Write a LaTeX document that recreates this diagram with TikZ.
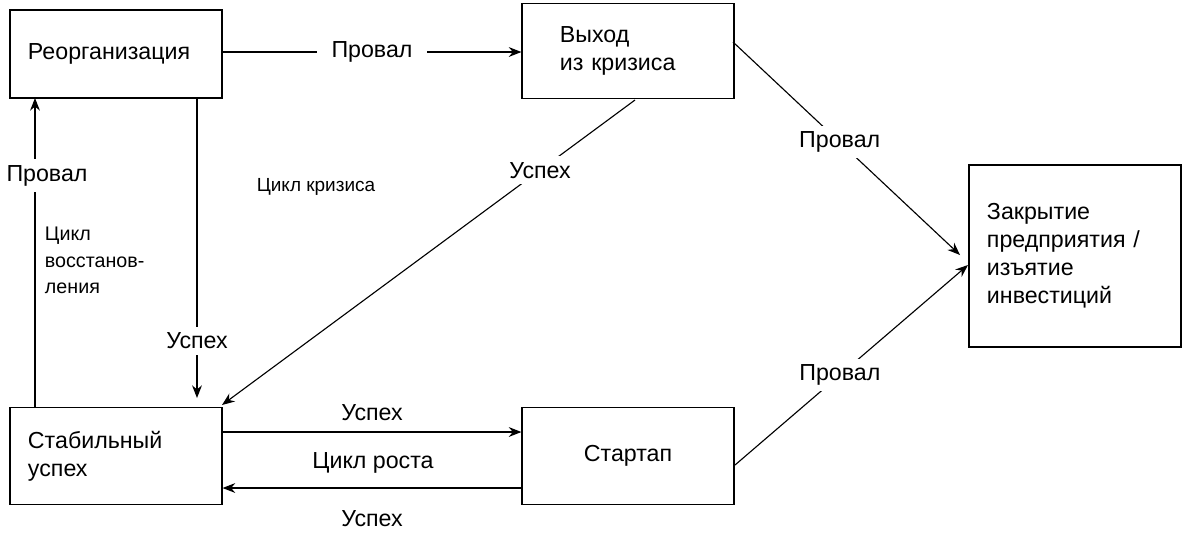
\documentclass[tikz,border=0pt]{standalone}
\usepackage{fontspec}
\setmainfont{Liberation Sans}
\usetikzlibrary{arrows.meta}
\usetikzlibrary{positioning}

\begin{document}
\begin{tikzpicture}[x=0.025cm,y=-0.025cm,
  every node/.style={font=\fontsize{16.5}{20}\selectfont},
  stage/.style={draw,thick,minimum width=5.3cm,text width=4.4cm},
  edge/.style={thick,-{Stealth[length=9pt,width=7pt]}},
  plain/.style={thick},
  tag/.style={fill=white,inner xsep=10pt,inner ysep=4pt}]
  \useasboundingbox (0,0) rectangle (1183,535);

  % stages
  \node[stage,minimum height=2.2cm,align=left] (Reorg) at (116,54) {Реорганизация};
  \node[stage,minimum height=2.38cm,align=left] (Exit) at (628,51) {\hspace{0.5cm}Выход\\\hspace{0.5cm}из кризиса};
  \node[stage,minimum height=4.55cm,align=left] (Close) at (1075,256) {Закрытие\\предприятия /\\изъятие\\инвестиций};
  \node[stage,minimum height=2.43cm,align=left] (Stable) at (116,456) {Стабильный\\успех};
  \node[stage,minimum height=2.43cm,align=center] (Start) at (628,456) {Стартап};

  % anchor points
  \coordinate (rb) at (197,98);   \coordinate (st) at (197,398);
  \coordinate (lb) at (35,98);    \coordinate (lt) at (35,408);
  \coordinate (ea) at (733,42);   \coordinate (ca) at (960,255);
  \coordinate (eb) at (635,100);  \coordinate (sa) at (222,405);
  \coordinate (sb) at (735,465);  \coordinate (cb) at (968,265);

  % connectors
  \draw[edge] (Reorg.east |- 0,52) -- node[tag] {Провал} (Exit.west |- 0,52);
  \draw[edge] (ea) -- node[tag,pos=0.47] {Провал} (ca);
  \draw[edge] (sb) -- node[tag,pos=0.45] {Провал} (cb);
  \draw[edge] (eb) -- node[tag,pos=0.23] {Успех} (sa);
  \draw[edge] (rb) -- node[tag,pos=0.81] {Успех} (st);
  \draw[edge] (lt) -- node[tag,pos=0.75,inner xsep=1pt,xshift=0.3cm] {Провал} (lb);
  \draw[edge] (Stable.east |- 0,432) -- node[above=4pt] {Успех} (Start.west |- 0,432);
  \draw[edge] (Start.west |- 0,488) -- node[below=12pt] {Успех} (Stable.east |- 0,488);

  % cycles
  \node[font=\fontsize{13.5}{16}\selectfont] (crisis) at (316,187) {Цикл кризиса};
  \node[font=\fontsize{14}{19}\selectfont,align=left,anchor=north west] (recovery) at (40,222) {Цикл\\восстанов-\\ления};
  \node (growth) at (373,463) {Цикл роста};
\end{tikzpicture}
\end{document}
